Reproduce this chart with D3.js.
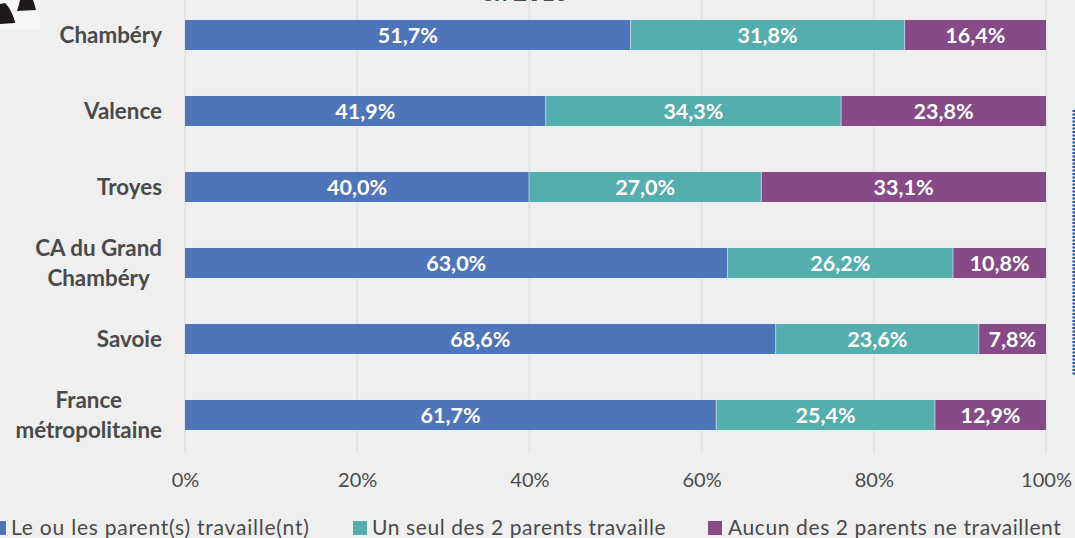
<!DOCTYPE html>
<html><head><meta charset="utf-8">
<script src="https://cdn.jsdelivr.net/npm/d3@7"></script>
<style>html,body{margin:0;padding:0;background:#efefef;overflow:hidden}svg{display:block}text{font-family:Lato,"Open Sans",sans-serif}</style>
</head><body><svg id="c" width="1075" height="538"></svg>
<script>
const categories=[["Chambéry"],["Valence"],["Troyes"],["CA du Grand","Chambéry"],["Savoie"],["France","métropolitaine"]];
const working=[51.7,41.9,40.0,63.0,68.6,61.7];
const oneParent=[31.8,34.3,27.0,26.2,23.6,25.4];
const noParent=[16.4,23.8,33.1,10.8,7.8,12.9];
const seriesNames=["Le ou les parent(s) travaille(nt)","Un seul des 2 parents travaille","Aucun des 2 parents ne travaillent"];
const colors=["#4e74ba","#54aead","#864a87"];
const ticks=[0,20,40,60,80,100];
const fmt=v=>v.toFixed(1).replace(".",",")+"%";
const svg=d3.select("#c");
const x=d3.scaleLinear().domain([0,100]).range([185,1046]);
const y=d3.scaleBand().domain(d3.range(categories.length)).range([-3,453]).paddingInner(0.605).paddingOuter(0.3025);
// icon fragment in the top-left corner
svg.append("rect").attr("x",0).attr("y",0).attr("width",40).attr("height",30).attr("fill","#f6f6f6");
svg.append("path").attr("d","M0 4 L5 3 Q10 8 13 16 Q15 21 15 23 L0 24 Z").attr("fill","#1f1a1a");
svg.append("path").attr("d","M20 0 L33 0 Q35 6 36 10 L17 11 Q19 5 20 0 Z").attr("fill","#1f1a1a");
// grid
svg.append("g").selectAll("line").data(ticks).join("line")
 .attr("x1",d=>x(d)).attr("x2",d=>x(d)).attr("y1",0).attr("y2",453)
 .attr("stroke","#e1e1e1").attr("stroke-width",1.5);
// stacks
const rows=categories.map((c,i)=>{const t=working[i]+oneParent[i]+noParent[i];return {i,vals:[working[i],oneParent[i],noParent[i]],t};});
const g=svg.append("g");
rows.forEach(r=>{
 let cum=0;
 r.vals.forEach((v,k)=>{
  const a=cum/r.t*100,b=(cum+v)/r.t*100;cum+=v;
  g.append("rect").attr("x",x(a)).attr("width",x(b)-x(a)).attr("y",y(r.i)).attr("height",y.bandwidth()).attr("fill",colors[k]);
  if(k>0)g.append("line").attr("x1",x(a)).attr("x2",x(a)).attr("y1",y(r.i)).attr("y2",y(r.i)+y.bandwidth()).attr("stroke","#c9d6e6").attr("stroke-width",0.8);
  g.append("text").attr("x",(x(a)+x(b))/2).attr("y",y(r.i)+y.bandwidth()/2+7.5).attr("text-anchor","middle")
   .attr("fill","#fff").attr("font-size",21.5).attr("font-weight",700).text(fmt(v));
 });
});
// category labels: each block is right-aligned at x=162, its lines centred on one another
categories.forEach((c,i)=>{
 const cy=y(i)+y.bandwidth()/2;
 const ts=c.map((l,j)=>svg.append("text").attr("y",cy+7.5-(c.length-1)*15+j*30)
  .attr("text-anchor","middle").attr("fill","#4a4a4a").attr("font-size",22.4).attr("font-weight",700).text(l));
 const w=d3.max(ts,t=>t.node().getComputedTextLength());
 ts.forEach(t=>t.attr("x",162-w/2));
});
// x axis
const ax=svg.append("g").attr("transform","translate(0,453)").call(d3.axisBottom(x).tickValues(ticks).tickFormat(d=>d+"%").tickSize(0).tickPadding(20));
ax.select(".domain").remove();
ax.selectAll("text").attr("font-size",20).attr("fill","#4a4a4a").style("font-family","Lato");
// legend
const lx=[-4,353,708],tx=[11,372,728],sp=[0.78,0.6,0.6];
seriesNames.forEach((n,k)=>{
 svg.append("rect").attr("x",lx[k]).attr("y",521).attr("width",k?14:10).attr("height",14).attr("fill",colors[k]);
 svg.append("text").attr("x",tx[k]).attr("y",535).attr("font-size",21).attr("fill","#4a4a4a").style("letter-spacing",sp[k]+"px").text(n);
});
// cropped title + decoration
svg.append("text").attr("x",525).attr("y",1).attr("text-anchor","middle").attr("font-size",24).attr("font-weight",700).attr("fill","#4a4a4a").text("en 2015");
svg.append("line").attr("x1",1074).attr("x2",1074).attr("y1",110).attr("y2",375).attr("stroke","#2b4b9b").attr("stroke-width",3).attr("stroke-dasharray","2 1.5");
</script></body></html>
